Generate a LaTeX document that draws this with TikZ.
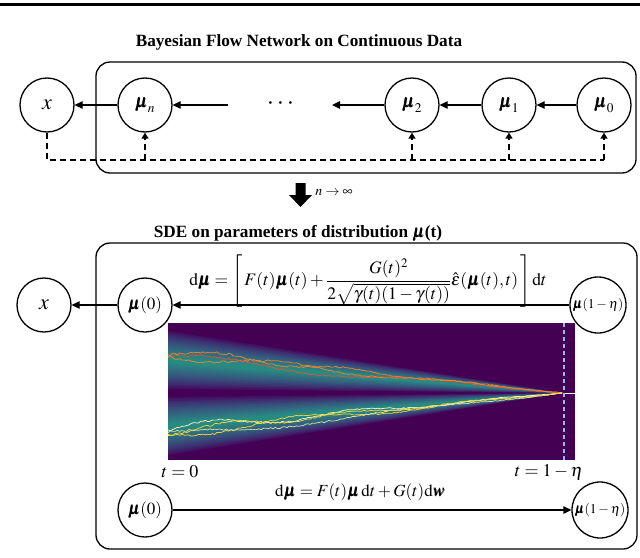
\documentclass[tikz,border=0pt]{standalone}
\usepackage{amsmath}
\usepackage{mathptmx}
\usepackage{bm}
\usepackage[no-math]{fontspec}
\setmainfont{Liberation Serif}
\usetikzlibrary{arrows.meta}
\definecolor{vpurple}{HTML}{440154}
\definecolor{vA}{HTML}{3B528B}
\definecolor{vE}{HTML}{22A884}
\definecolor{tOrange}{HTML}{F3852C}
\definecolor{tRed}{HTML}{E2533A}
\definecolor{tYellow}{HTML}{F5D63A}
\definecolor{tPale}{HTML}{FFF7C8}
\definecolor{tLight}{HTML}{D8E6A8}
\definecolor{dashblue}{HTML}{9AB4EC}
\tikzset{
  circ/.style={circle, draw, line width=1.3pt, minimum size=54pt, inner sep=0pt},
  arr/.style={-{Triangle[length=8pt,width=7.5pt]}, line width=1.3pt},
  darr/.style={-{Triangle[length=6pt,width=7pt]}, line width=2pt, dash pattern=on 6pt off 4pt},
  dline/.style={line width=2pt, dash pattern=on 6pt off 4pt},
  frame/.style={draw, line width=1.3pt, rounded corners=14pt},
  ttl/.style={font=\fontsize{17.2}{20}\selectfont\bfseries},
  big/.style={font=\fontsize{22}{26}\selectfont},
  mid/.style={font=\fontsize{18}{22}\selectfont},
  eqf/.style={font=\fontsize{17.5}{21}\selectfont, inner sep=0pt},
  traj/.style={line width=0.7pt},
}
\begin{document}
\begin{tikzpicture}[x=1pt,y=-1pt]
\useasboundingbox (0,0) rectangle (640,557);
% top rule
\draw[line width=3pt] (0,4) -- (640,4);

% ---------- top section ----------
\node[ttl] (t1) at (299,42) {Bayesian Flow Network on Continuous Data};
\draw[frame] (96,62) rectangle (636,173);
\node[circ, big] (x) at (47,105) {$x$};
\node[circ, mid] (mun) at (145,105) {$\bm{\mu}_n$};
\node[circ, mid] (mu2) at (412,105) {$\bm{\mu}_2$};
\node[circ, mid] (mu1) at (509,105) {$\bm{\mu}_1$};
\node[circ, mid] (mu0) at (604,105) {$\bm{\mu}_0$};
\node[font=\fontsize{26}{30}\selectfont] (dots) at (282,104) {$\cdots$};
\coordinate (dl) at (228,105);
\coordinate (dr) at (332,105);
\draw[arr] (mun) -- (x);
\draw[arr] (dl) -- (mun);
\draw[arr] (mu2) -- (dr);
\draw[arr] (mu1) -- (mu2);
\draw[arr] (mu0) -- (mu1);
\coordinate (bx) at (47,160);
\coordinate (b0) at (604,160);
\draw[dline] (x.south) -- (bx) -- (b0);
\draw[darr] (b0) -- (mu0.south);
\draw[darr] (mun.south |- bx) -- (mun.south);
\draw[darr] (mu2.south |- bx) -- (mu2.south);
\draw[darr] (mu1.south |- bx) -- (mu1.south);

% ---------- transition ----------
\fill (295.5,183) -- (305.5,183) -- (305.5,195) -- (312,195) -- (300.5,207) -- (289,195) -- (295.5,195) -- cycle;
\node[font=\fontsize{14}{17}\selectfont] (lim) at (334,193) {$n\rightarrow\infty$};
\node[ttl] (t2) at (298,233) {SDE on parameters of distribution $\bm{\mu}$(t)};

% ---------- bottom section ----------
\draw[frame] (96,243) rectangle (637,549);

% heatmap
\begin{scope}
\clip (168,323) rectangle (575,460);
\fill[vpurple] (168,323) rectangle (575,460);
\foreach \i in {0,...,13}{
  \pgfmathsetmacro{\h}{29-2*\i}
  \pgfmathsetmacro{\m}{min(100,\i*8)}
  \fill[vE!\m!vA, fill opacity=0.2] (168,360-\h) -- (563,393) -- (168,360+\h) -- cycle;
  \fill[vE!\m!vA, fill opacity=0.2] (168,426-\h) -- (563,393) -- (168,426+\h) -- cycle;
}
\pgfmathsetseed{7}
\foreach \ys/\col/\a/\f/\p in {354/tOrange/5/2.3/30, 358/tRed/6/1.7/200, 351/tOrange/4/3.1/120}{
  \draw[traj,\col] plot[domain=0:1, samples=170]
    ({168+395*\x},{\ys+(393-\ys)*\x + (1-\x)*\a*sin(\f*\x*360+\p) + 1.1*rand*(1-0.7*\x)});
}
\foreach \ys/\col/\a/\f/\p in {433/tYellow/6/2.1/10, 429/tPale/5/2.7/160, 437/tLight/5/1.6/260, 431/tYellow/4/3.3/80}{
  \draw[traj,\col] plot[domain=0:1, samples=170]
    ({168+395*\x},{\ys+(393-\ys)*\x + (1-\x)*\a*sin(\f*\x*360+\p) + 1.1*rand*(1-0.7*\x)});
}
\draw[white, line width=0.8pt] (563,393) -- (575,393);
\draw[dashblue, line width=1.3pt, dash pattern=on 4pt off 3pt] (564,323) -- (564,460);
\end{scope}

\node[circ, big] (x2) at (44,305) {$x$};
\node[circ, font=\fontsize{17}{20}\selectfont] (m0a) at (145,305) {$\bm{\mu}(0)$};
\node[circ, minimum size=56pt, font=\fontsize{13.5}{16}\selectfont] (m1a) at (598,305) {$\bm{\mu}(1-\eta)$};
\draw[arr] (m1a) -- (m0a);
\draw[arr] (m0a) -- (x2);
\node[eqf] (eq1) at (368,281) {$\mathrm{d}\bm{\mu}=\left[\,F(t)\bm{\mu}(t)+\dfrac{G(t)^2}{2\sqrt{\gamma(t)(1-\gamma(t))}}\hat{\varepsilon}(\bm{\mu}(t),t)\,\right]\mathrm{d}t$};

\node[font=\fontsize{18}{22}\selectfont] (tz) at (180,472) {$t=0$};
\node[font=\fontsize{18}{22}\selectfont] (te) at (549,472) {$t=1-\eta$};

\node[circ, font=\fontsize{17}{20}\selectfont] (m0b) at (145,510) {$\bm{\mu}(0)$};
\node[circ, minimum size=56pt, font=\fontsize{13.5}{16}\selectfont] (m1b) at (600,510) {$\bm{\mu}(1-\eta)$};
\draw[arr] (m0b) -- (m1b);
\node[font=\fontsize{17}{20}\selectfont] (eq2) at (360,492) {$\mathrm{d}\bm{\mu}=F(t)\bm{\mu}\,\mathrm{d}t+G(t)\mathrm{d}\bm{w}$};
\end{tikzpicture}
\end{document}
